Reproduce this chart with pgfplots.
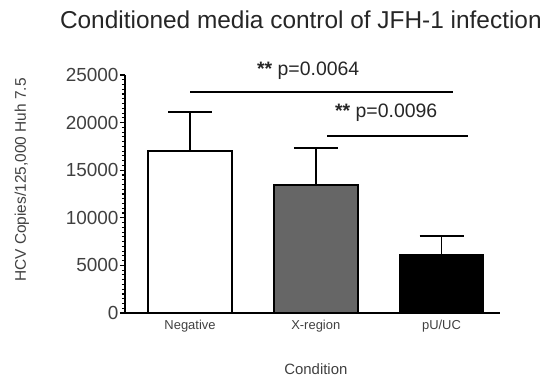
\documentclass[border=0pt]{standalone}
\usepackage{pgfplots}
\pgfplotsset{compat=1.18}
\usetikzlibrary{calc}
\usepackage{fontspec}
\setmainfont{Liberation Sans}
\begin{document}
\begin{tikzpicture}
\begin{axis}[
  scale only axis,
  width=375bp, height=238bp,
  xmin=-0.517, xmax=2.465,
  ymin=0, ymax=25000,
  axis x line=bottom, axis y line=left,
  axis line style={-, line width=2.6bp, black},
  xtick={0,1,2},
  xticklabels={Negative,X-region,pU/UC},
  x tick label style={font=\fontsize{13}{15}\selectfont, text=black!75, yshift=1bp},
  x tick style={draw=none},
  ytick={0,5000,10000,15000,20000,25000},
  minor y tick num=9,
  tick align=outside,
  major tick length=5bp,
  minor tick length=3bp,
  y tick style={line width=1.3bp, black},
  minor y tick style={line width=1.1bp, black},
  y tick label style={font=\fontsize{19}{22}\selectfont, text=black!75, xshift=2bp},
  /pgf/number format/assume math mode=true,
  /pgf/number format/set thousands separator={},
  scaled y ticks=false,
  ybar, bar width=0.668, bar shift=0pt,
  clip=false,
  error bars/y dir=plus, error bars/y explicit,
  error bars/error bar style={line width=1.6bp, black},
  error bars/error mark options={line width=1.6bp, mark size=22bp, rotate=90, black},
]
\coordinate (O) at (rel axis cs:0,0);
\addplot[draw=black, line width=1.8bp, fill=white] coordinates {(0,17000) +- (0,4100)};
\addplot[draw=black, line width=1.8bp, fill=black!60] coordinates {(1,13450) +- (0,3900)};
\addplot[draw=black, line width=1.8bp, fill=black] coordinates {(2,6100) +- (0,2000)};
\draw[line width=1.8bp, black] (axis cs:0,23200) -- (axis cs:2.09,23200);
\draw[line width=1.8bp, black] (axis cs:1.09,18600) -- (axis cs:2.21,18600);
\node[font=\fontsize{19.5}{22}\selectfont, text=black!85] at (axis cs:0.94,25400) {\textbf{**} p=0.0064};
\node[font=\fontsize{19.5}{22}\selectfont, text=black!85] at (axis cs:1.56,21000) {\textbf{**} p=0.0096};
\node[font=\fontsize{24.5}{28}\selectfont, text=black!85] at (rel axis cs:0.469,1.231) {Conditioned media control of JFH-1 infection};
\node[rotate=90, font=\fontsize{15.5}{18}\selectfont, text=black!75] at (rel axis cs:-0.275,0.559) {HCV Copies/125,000 Huh 7.5};
\node[font=\fontsize{15}{18}\selectfont, text=black!75] at (rel axis cs:0.509,-0.236) {Condition};
\end{axis}
\pgfresetboundingbox
\path[use as bounding box] ($(O)+(-125bp,-66bp)$) rectangle ($(O)+(427bp,313bp)$);
\end{tikzpicture}
\end{document}
